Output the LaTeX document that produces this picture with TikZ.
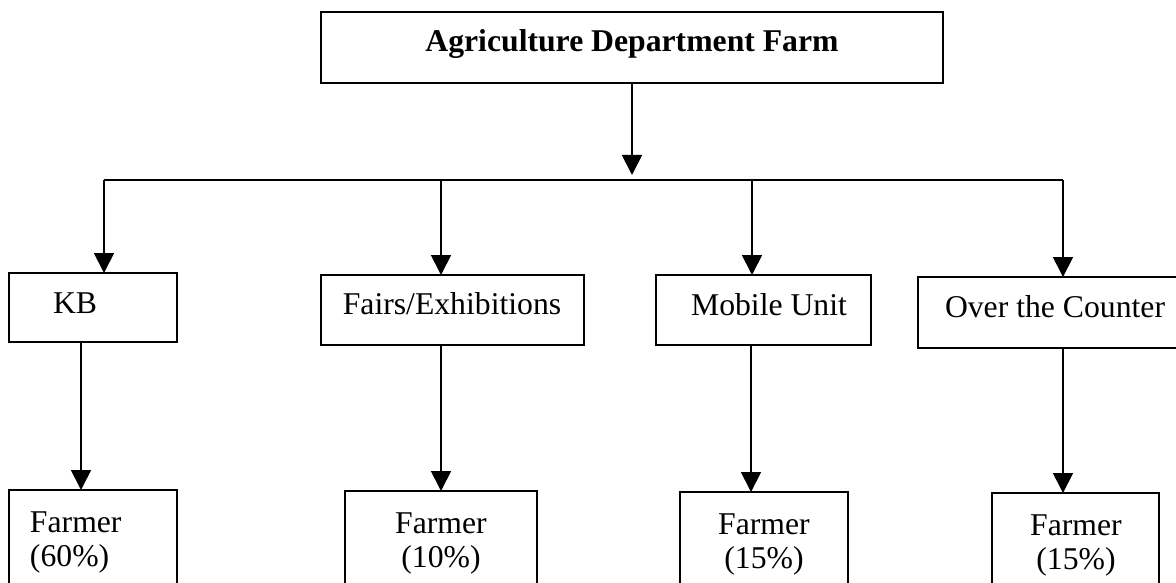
\documentclass[tikz,border=0pt]{standalone}
\usepackage{fontspec}
\setmainfont{Liberation Serif}
\usetikzlibrary{arrows.meta}

\tikzset{
  box/.style={draw, line width=1.8pt, rectangle, outer sep=0pt, inner sep=0pt, anchor=north west},
  lbl/.style={inner sep=0pt, outer sep=0pt, font=\fontsize{31.7}{38}\selectfont},
  lblb/.style={lbl, font=\fontsize{31.7}{38}\selectfont\bfseries},
  link/.style={line width=1.8pt},
  arr/.style={link, -{Triangle[length=20pt,width=20pt]}}
}

\begin{document}
\begin{tikzpicture}[x=1pt,y=-1pt]
  % page frame
  \clip (0,0) rectangle (1176,583);
  \fill[white] (0,0) rectangle (1176,583);

  % top box
  \node[box, minimum width=622pt, minimum height=71pt] (farm) at (321,12) {};
  \node[lblb, anchor=base] (farmtxt) at (632,52) {Agriculture Department Farm};

  % channel boxes
  \node[box, minimum width=168pt, minimum height=69pt] (kb) at (9,273) {};
  \node[lbl, anchor=base west] (kbtxt) at (53,313) {KB};

  \node[box, minimum width=263pt, minimum height=70pt] (fairs) at (321,275) {};
  \node[lbl, anchor=base] (fairstxt) at (452,314) {Fairs/Exhibitions};

  \node[box, minimum width=215pt, minimum height=70pt] (mobile) at (656,275) {};
  \node[lbl, anchor=base] (mobiletxt) at (769,315) {Mobile Unit};

  \node[box, minimum width=272pt, minimum height=71pt] (otc) at (918,277) {};
  \node[lbl, anchor=base west] (otctxt) at (945,317) {Over the Counter};

  % farmer boxes
  \node[box, minimum width=168pt, minimum height=130pt] (fa) at (9,490) {};
  \node[lbl, anchor=base west] (fa1) at (30,532) {Farmer};
  \node[lbl, anchor=base west] (fa2) at (30,566) {(60\%)};

  \node[box, minimum width=192pt, minimum height=130pt] (fb) at (345,491) {};
  \node[lbl, anchor=base] (fb1) at (441,533) {Farmer};
  \node[lbl, anchor=base] (fb2) at (441,567) {(10\%)};

  \node[box, minimum width=168pt, minimum height=130pt] (fc) at (680,492) {};
  \node[lbl, anchor=base] (fc1) at (764,534) {Farmer};
  \node[lbl, anchor=base] (fc2) at (764,568) {(15\%)};

  \node[box, minimum width=167pt, minimum height=130pt] (fd) at (992,493) {};
  \node[lbl, anchor=base] (fd1) at (1076,535) {Farmer};
  \node[lbl, anchor=base] (fd2) at (1076,569) {(15\%)};

  % distribution bus
  \coordinate (hubtip) at (632,175);
  \coordinate (busL) at (104,180);
  \coordinate (busF) at (441,180);
  \coordinate (busM) at (752,180);
  \coordinate (busR) at (1063,180);

  \draw[arr] (farm.south) -- (hubtip);
  \draw[link] (busL) -- (busR);
  \draw[arr] (busL) -- (busL |- kb.north);
  \draw[arr] (busF) -- (busF |- fairs.north);
  \draw[arr] (busM) -- (busM |- mobile.north);
  \draw[arr] (busR) -- (busR |- otc.north);

  % channel to farmer links
  \coordinate (xa) at (81,0);
  \coordinate (xb) at (441,0);
  \coordinate (xc) at (751,0);
  \coordinate (xd) at (1063,0);
  \draw[arr] (kb.south -| xa) -- (fa.north -| xa);
  \draw[arr] (fairs.south -| xb) -- (fb.north -| xb);
  \draw[arr] (mobile.south -| xc) -- (fc.north -| xc);
  \draw[arr] (otc.south -| xd) -- (fd.north -| xd);
\end{tikzpicture}
\end{document}
